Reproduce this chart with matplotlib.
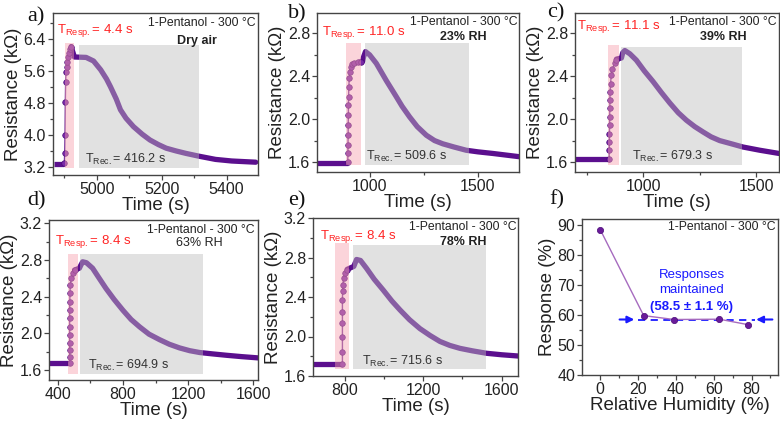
import numpy as np
import matplotlib
matplotlib.use("Agg")
import matplotlib.pyplot as plt
from matplotlib.ticker import MultipleLocator

plt.rcParams['font.family'] = ['Liberation Sans', 'DejaVu Sans']
plt.rcParams['mathtext.fontset'] = 'custom'
plt.rcParams['mathtext.rm'] = 'Liberation Sans'
plt.rcParams['mathtext.bf'] = 'Liberation Sans:bold'

# ---------------- data ----------------
# a) dry air
a_flat_t = [4868, 4899]
a_flat_r = [3.28, 3.28]
a_rise_t = [4900, 4901, 4902, 4903, 4904, 4905, 4907, 4909, 4912, 4915, 4918, 4921]
a_rise_r = [3.29, 3.54, 4.00, 4.83, 5.33, 5.58, 5.71, 5.83, 5.95, 6.05, 6.15, 6.21]
a_tail_t = [4921, 4931, 4967, 4990, 5012, 5030, 5042, 5060, 5073, 5090, 5113, 5140,
            5164, 5190, 5214, 5245, 5275, 5315, 5366, 5416, 5490]
a_tail_r = [6.21, 5.95, 5.94, 5.85, 5.63, 5.40, 5.21, 4.90, 4.63, 4.42, 4.21, 4.02,
            3.875, 3.76, 3.67, 3.60, 3.54, 3.47, 3.39, 3.35, 3.32]
a_resp_win = [4901, 4929, 3.18, 6.31]
a_rec_win = [4946, 5315, 3.18, 6.25]

# b) 23% RH
b_flat_t = [757, 898]
b_flat_r = [1.59, 1.59]
b_rise_t = [899, 900, 900, 901, 901, 902, 902, 903, 904, 906, 909, 913, 920, 930, 945, 958]
b_rise_r = [1.60, 1.68, 1.756, 1.85, 1.943, 2.036, 2.13, 2.21, 2.30, 2.38, 2.44, 2.49,
            2.51, 2.52, 2.53, 2.535]
b_tail_t = [958, 968, 972, 981, 1000, 1031, 1054, 1077, 1100, 1123, 1150, 1185, 1220,
            1262, 1300, 1338, 1390, 1446, 1500, 1569, 1690]
b_tail_r = [2.535, 2.54, 2.58, 2.63, 2.60, 2.52, 2.44, 2.36, 2.285, 2.21, 2.12, 2.02,
            1.93, 1.85, 1.80, 1.77, 1.74, 1.71, 1.695, 1.68, 1.65]
b_resp_win = [892, 958, 1.57, 2.71]
b_rec_win = [981, 1458, 1.57, 2.71]

# c) 39% RH
c_flat_t = [700, 849]
c_flat_r = [1.63, 1.63]
c_rise_t = [850, 850, 851, 851, 852, 852, 853, 853, 854, 856, 859, 864, 875, 882]
c_rise_r = [1.632, 1.71, 1.787, 1.865, 1.943, 2.02, 2.10, 2.177, 2.254, 2.33, 2.41,
            2.47, 2.52, 2.55]
c_tail_t = [882, 904, 910, 919, 941, 970, 1005, 1044, 1080, 1118, 1155, 1191, 1228,
            1265, 1300, 1338, 1390, 1441, 1515, 1600]
c_tail_r = [2.56, 2.57, 2.62, 2.64, 2.61, 2.55, 2.45, 2.35, 2.25, 2.15, 2.06, 1.99,
            1.93, 1.88, 1.835, 1.80, 1.77, 1.74, 1.71, 1.68]
c_resp_win = [846, 893, 1.57, 2.69]
c_rec_win = [904, 1438, 1.57, 2.675]

# d) 63% RH
d_flat_t = [345, 471]
d_flat_r = [1.68, 1.68]
d_rise_t = [472, 472, 472, 472, 472, 472, 472, 472, 473, 474, 476, 482, 490, 502]
d_rise_r = [1.68, 1.745, 1.818, 1.891, 1.982, 2.073, 2.164, 2.255, 2.345, 2.436, 2.527,
            2.60, 2.655, 2.69]
d_tail_t = [502, 532, 540, 552, 575, 613, 650, 695, 745, 800, 850, 902, 960, 1025, 1085,
            1148, 1210, 1271, 1350, 1435, 1530, 1640]
d_tail_r = [2.69, 2.71, 2.74, 2.78, 2.77, 2.71, 2.61, 2.49, 2.37, 2.25, 2.15, 2.07, 1.99,
            1.93, 1.88, 1.84, 1.81, 1.79, 1.775, 1.76, 1.745, 1.73]
d_resp_win = [462, 523, 1.56, 2.87]
d_rec_win = [536, 1292, 1.56, 2.87]

# e) 78% RH
e_flat_t = [640, 787]
e_flat_r = [1.72, 1.72]
e_rise_t = [788, 788, 788, 788, 788, 788, 789, 790, 794, 800, 812]
e_rise_r = [1.72, 1.847, 1.999, 2.135, 2.253, 2.37, 2.456, 2.52, 2.59, 2.64, 2.676]
e_tail_t = [812, 846, 852, 860, 880, 911, 950, 996, 1040, 1081, 1130, 1183, 1235, 1285,
            1335, 1387, 1450, 1523, 1600, 1700]
e_tail_r = [2.68, 2.71, 2.74, 2.78, 2.77, 2.69, 2.58, 2.47, 2.36, 2.27, 2.17, 2.08, 2.01,
            1.95, 1.91, 1.88, 1.855, 1.83, 1.815, 1.80]
e_resp_win = [749, 822, 1.67, 2.95]
e_rec_win = [842, 1519, 1.67, 2.93]

# f) response vs humidity
rh = [0, 23, 39, 63, 78]
response = [88.5, 59.8, 58.5, 58.6, 56.8]
resp_mean = 58.5

panel_labels = ['a)', 'b)', 'c)', 'd)', 'e)', 'f)']
resp_texts = ['4.4 s', '11.0 s', '11.1 s', '8.4 s', '8.4 s']
rec_texts = ['416.2 s', '509.6 s', '679.3 s', '694.9 s', '715.6 s']
cond_texts = ['Dry air', '23% RH', '39% RH', '63% RH', '78% RH']
cond_bold = [True, True, True, False, True]

# ---------------- figure ----------------
W, H = 780, 423
fig = plt.figure(figsize=(W / 100, H / 100), dpi=100)

def add_ax(l, r, t, b):
    return fig.add_axes([l / W, 1 - b / H, (r - l) / W, (b - t) / H])

purple = '#5b0f8e'
ink = '#222222'

def style(ax):
    for s in ax.spines.values():
        s.set_linewidth(1.0)
        s.set_color('#444444')
    ax.tick_params(which='both', direction='out', colors='#444444', labelcolor=ink,
                   labelsize=11.5, width=0.9, pad=1.5)
    ax.tick_params(which='major', length=3.5)
    ax.tick_params(which='minor', length=2)

def draw_panel(ax, flat_t, flat_r, rise_t, rise_r, tail_t, tail_r, resp_win, rec_win,
               xlim, ylim, xmaj, xmin, ymaj, ymin, i, txt_pos):
    ax.plot(flat_t, flat_r, color=purple, lw=3.8, solid_capstyle='butt', zorder=2)
    ax.plot(tail_t, tail_r, color=purple, lw=3.8, solid_joinstyle='round',
            solid_capstyle='round', zorder=2)
    ax.plot(rise_t, rise_r, color='#7a3a9e', lw=1.0, marker='o', ms=4.0,
            mfc='#7a2aa8', mec='#4a0a78', mew=0.5, zorder=2)
    x0, x1, y0, y1 = resp_win
    ax.fill_between([x0, x1], [y0, y0], [y1, y1], color='#f7a1ad', alpha=0.45, lw=0, zorder=3)
    x0, x1, y0, y1 = rec_win
    ax.fill_between([x0, x1], [y0, y0], [y1, y1], color='#bdbdbd', alpha=0.45, lw=0, zorder=3)
    ax.set_xlim(*xlim)
    ax.set_ylim(*ylim)
    ax.xaxis.set_major_locator(MultipleLocator(xmaj))
    ax.xaxis.set_minor_locator(MultipleLocator(xmin))
    ax.yaxis.set_major_locator(MultipleLocator(ymaj))
    ax.yaxis.set_minor_locator(MultipleLocator(ymin))
    ax.yaxis.set_major_formatter(plt.FormatStrFormatter('%.1f'))
    style(ax)
    ax.set_xlabel('Time (s)', fontsize=13.5, color=ink, labelpad=0)
    ax.set_ylabel('Resistance (k\u03a9)', fontsize=13.5, color=ink, labelpad=1)
    p = txt_pos
    ax.text(p[0], p[1], r'T$_{\mathrm{Resp.}}$= ' + resp_texts[i], transform=ax.transAxes,
            color='#ff2525', fontsize=9.5, ha='left', va='center', zorder=5)
    ax.text(p[2], p[3], '1-Pentanol - 300 \u00b0C', transform=ax.transAxes, color=ink,
            fontsize=8.8, ha='right', va='center', zorder=5)
    ax.text(p[4], p[5], cond_texts[i], transform=ax.transAxes, color=ink, fontsize=9,
            fontweight='bold' if cond_bold[i] else 'normal', ha='center', va='center', zorder=5)
    ax.text(p[6], p[7], r'T$_{\mathrm{Rec.}}$= ' + rec_texts[i], transform=ax.transAxes,
            color='#333333', fontsize=9, ha='left', va='center', zorder=5)

ax_a = add_ax(53, 258, 13, 175)
draw_panel(ax_a, a_flat_t, a_flat_r, a_rise_t, a_rise_r, a_tail_t, a_tail_r, a_resp_win,
           a_rec_win, (4865, 5497), (3.0, 7.05), 200, 100, 0.8, 0.4, 0,
           [0.02, 0.89, 0.99, 0.936, 0.70, 0.83, 0.156, 0.093])

ax_b = add_ax(317, 519, 13, 172)
draw_panel(ax_b, b_flat_t, b_flat_r, b_rise_t, b_rise_r, b_tail_t, b_tail_r, b_resp_win,
           b_rec_win, (757, 1690), (1.507, 2.99), 500, 250, 0.4, 0.2, 1,
           [0.023, 0.88, 0.995, 0.945, 0.724, 0.85, 0.245, 0.10])

ax_c = add_ax(575, 779, 13, 172)
draw_panel(ax_c, c_flat_t, c_flat_r, c_rise_t, c_rise_r, c_tail_t, c_tail_r, c_resp_win,
           c_rec_win, (699, 1600), (1.507, 2.99), 500, 250, 0.4, 0.2, 2,
           [0.012, 0.914, 0.99, 0.945, 0.727, 0.85, 0.278, 0.10])

ax_d = add_ax(49, 258, 220, 380)
draw_panel(ax_d, d_flat_t, d_flat_r, d_rise_t, d_rise_r, d_tail_t, d_tail_r, d_resp_win,
           d_rec_win, (345, 1630), (1.49, 3.236), 400, 200, 0.4, 0.2, 3,
           [0.03, 0.864, 0.985, 0.937, 0.72, 0.854, 0.188, 0.094])

ax_e = add_ax(313, 518, 218, 376)
draw_panel(ax_e, e_flat_t, e_flat_r, e_rise_t, e_rise_r, e_tail_t, e_tail_r, e_resp_win,
           e_rec_win, (638, 1683), (1.6, 3.2), 400, 200, 0.4, 0.2, 4,
           [0.034, 0.882, 0.995, 0.945, 0.733, 0.846, 0.238, 0.092])

# f) response vs RH
ax_f = add_ax(582, 778, 219, 375)
ax_f.plot(rh, response, color='#a66bbf', lw=1.0, marker='o', ms=4.5, mfc='#6a1b9a',
          mec='#4a0a78', mew=0.5, zorder=3)
ax_f.plot([20, 82], [resp_mean, resp_mean], color='#1a1aff', lw=1.3, ls=(0, (4, 3)), zorder=2)
ax_f.annotate('', xy=(19.5, resp_mean), xytext=(8.8, resp_mean),
              arrowprops=dict(arrowstyle='-|>', color='#1a1aff', lw=1.5, mutation_scale=10))
ax_f.annotate('', xy=(81, resp_mean), xytext=(92.5, resp_mean),
              arrowprops=dict(arrowstyle='-|>', color='#1a1aff', lw=1.5, mutation_scale=10))
ax_f.text(48.4, 70.8, 'Responses\nmaintained', color='#1a1aff', fontsize=9.5, ha='center',
          va='center', linespacing=1.25)
ax_f.text(48.4, 62.8, '(58.5 \u00b1 1.1 %)', color='#1a1aff', fontsize=9.5, ha='center',
          va='center', fontweight='bold')
ax_f.text(0.99, 0.95, '1-Pentanol - 300 \u00b0C', transform=ax_f.transAxes, color=ink,
          fontsize=8.8, ha='right', va='center')
ax_f.set_xlim(-9.6, 94)
ax_f.set_ylim(40, 92)
ax_f.xaxis.set_major_locator(MultipleLocator(20))
ax_f.xaxis.set_minor_locator(MultipleLocator(10))
ax_f.yaxis.set_major_locator(MultipleLocator(10))
ax_f.yaxis.set_minor_locator(MultipleLocator(5))
style(ax_f)
ax_f.set_xlabel('Relative Humidity (%)', fontsize=13.5, color=ink, labelpad=0)
ax_f.set_ylabel('Response (%)', fontsize=13.5, color=ink, labelpad=1)

# panel letters
letter_pos = [(36, 17), (297, 14), (556, 13), (36, 201), (297, 201), (557, 200)]
for lab, (px, py) in zip(panel_labels, letter_pos):
    fig.text(px / W, 1 - py / H, lab, fontsize=16, family='Liberation Serif',
             ha='center', va='center', color='#111111')

fig.savefig('out.png', dpi=100)
